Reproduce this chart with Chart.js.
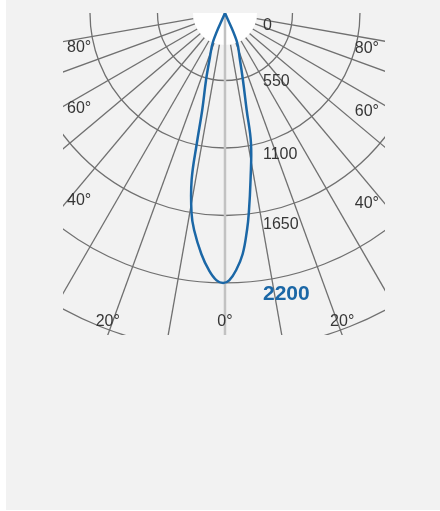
<!DOCTYPE html>
<html>
<head>
<meta charset="utf-8">
<script src="https://cdn.jsdelivr.net/npm/chart.js@4"></script>
<style>
    body { margin: 0; background: #fff; }
    #panel { position: absolute; left: 6px; top: 0; width: 434px; height: 510px; background: #f2f2f2; }
    #wrap { position: absolute; left: 57px; top: 13px; width: 322px; height: 322px; }
</style>
</head>
<body>
<div id="panel">
    <div id="wrap"><canvas id="polarChart" width="322" height="322"></canvas></div>
</div>
<script>
// beam profile, angle from nadir in degrees (left side negative), intensity in cd
const leftAngles = [-24, -22.7, -18.3, -15.8, -13.2, -12.2, -11.3, -9.5, -8.1, -5.6, -3.6, -1.8, -0.4];
const leftIntensity = [0, 247, 403, 567, 812, 1084, 1387, 1652, 1786, 1973, 2098, 2180, 2200];
const rightAngles = [0.9, 2.5, 4.2, 5.8, 6.8, 8.7, 11.3, 12.6, 15.0, 17.7, 22.7, 24];
const rightIntensity = [2179, 2096, 1969, 1777, 1641, 1377, 1080, 810, 565, 402, 247, 0];

const ringValues = [0, 550, 1100, 1650, 2200, 2750];
const ringLabels = ['0', '550', '1100', '1650', '2200'];
const peakLabel = '2200';
const spokeAngles = [-80, -70, -60, -50, -40, -30, -20, -10, 0, 10, 20, 30, 40, 50, 60, 70, 80];
const angleTicks = [-80, -60, -40, -20, 0, 20, 40, 60, 80];

const HOLE = 32;
const ringLabelDy = [13, 1.5, 7, 9.5, 11];
const angleLabelDy = { '-80': 6, '-60': 2, '-40': -5, '-20': 0, '0': 0, '20': 0, '40': 0, '60': 6, '80': 7 };
const FONT = '"Liberation Sans", Arial, sans-serif';
const toRad = d => d * Math.PI / 180;

const beamAngles = leftAngles.concat(rightAngles);
const beamIntensity = leftIntensity.concat(rightIntensity);
const beamPoints = beamAngles.map((a, i) => ({
    x: beamIntensity[i] * Math.sin(toRad(a)),
    y: beamIntensity[i] * Math.cos(toRad(a))
}));

const polarGrid = {
    id: 'polarGrid',
    beforeDatasetsDraw(chart) {
        const { ctx, chartArea: area, scales: { x, y } } = chart;
        const cx = x.getPixelForValue(0);
        const cy = y.getPixelForValue(0);
        const rad = v => x.getPixelForValue(v) - cx;

        ctx.save();
        ctx.beginPath();
        ctx.rect(area.left, area.top, area.right - area.left, area.bottom - area.top);
        ctx.clip();

        ctx.strokeStyle = '#707070';
        ctx.lineWidth = 1.3;
        ringValues.forEach(v => {
            if (v <= 0) return;
            ctx.beginPath();
            ctx.arc(cx, cy, rad(v), 0, Math.PI);
            ctx.stroke();
        });
        spokeAngles.forEach(a => {
            if (a === 0) return;
            const s = Math.sin(toRad(a)), c = Math.cos(toRad(a));
            ctx.beginPath();
            ctx.moveTo(cx + HOLE * s, cy + HOLE * c);
            ctx.lineTo(cx + 700 * s, cy + 700 * c);
            ctx.stroke();
        });

        ctx.fillStyle = '#ffffff';
        ctx.beginPath();
        ctx.arc(cx, cy, HOLE, 0, Math.PI);
        ctx.closePath();
        ctx.fill();

        ctx.strokeStyle = '#c2c2c2';
        ctx.lineWidth = 2.5;
        ctx.beginPath();
        ctx.moveTo(cx, cy);
        ctx.lineTo(cx, area.bottom);
        ctx.stroke();

        // intensity labels
        ctx.textBaseline = 'middle';
        ctx.textAlign = 'left';
        ringLabels.forEach((t, i) => {
            const isPeak = t === peakLabel;
            ctx.font = isPeak ? 'bold 21px ' + FONT : '16px ' + FONT;
            ctx.fillStyle = isPeak ? '#1b67a6' : '#363636';
            ctx.fillText(t, cx + 38, cy + rad(ringValues[i]) + ringLabelDy[i]);
        });

        // angle labels where each ray leaves the frame
        ctx.font = '16px ' + FONT;
        ctx.fillStyle = '#363636';
        ctx.textAlign = 'center';
        angleTicks.forEach(a => {
            const s = Math.sin(toRad(a)), c = Math.cos(toRad(a));
            let t = Infinity;
            if (s > 0) t = Math.min(t, (area.right - cx) / s);
            if (s < 0) t = Math.min(t, (area.left - cx) / s);
            if (c > 0) t = Math.min(t, (area.bottom - cy) / c);
            let px = cx + t * s, py = cy + t * c;
            const label = Math.abs(a) + '°';
            const w = ctx.measureText(label).width;
            px = Math.max(area.left + 4 + w / 2, Math.min(area.right - 6 - w / 2, px));
            py = Math.min(area.bottom - 13, py + angleLabelDy[a]);
            ctx.fillText(label, px, py);
        });
        ctx.restore();
    }
};

new Chart(document.getElementById('polarChart').getContext('2d'), {
    type: 'scatter',
    data: {
        datasets: [{
            data: beamPoints,
            showLine: true,
            borderColor: '#1b67a6',
            borderWidth: 2.5,
            pointRadius: 0,
            tension: 0.4,
            fill: false
        }]
    },
    options: {
        responsive: false,
        animation: false,
        devicePixelRatio: 1,
        layout: { padding: 0 },
        scales: {
            x: { type: 'linear', min: -1320, max: 1304, display: false },
            y: { type: 'linear', min: 0, max: 2624, reverse: true, display: false }
        },
        plugins: { legend: { display: false }, tooltip: { enabled: false } }
    },
    plugins: [polarGrid]
});
</script>
</body>
</html>
